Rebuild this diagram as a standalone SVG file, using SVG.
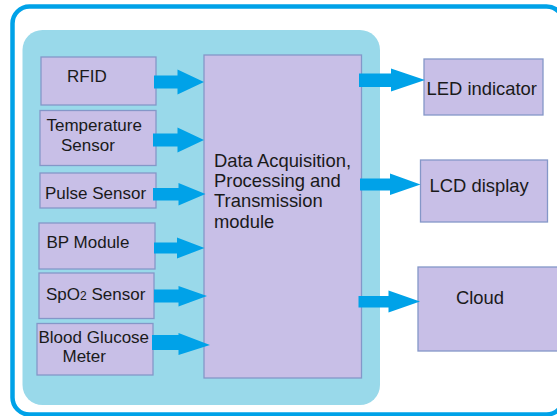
<svg xmlns="http://www.w3.org/2000/svg" width="557" height="416" viewBox="0 0 557 416">
<style>
.box{fill:#C8BFE7;stroke:#8497C8;stroke-width:1.3}
.t{font-family:"Liberation Sans",Arial,sans-serif;font-size:17px;fill:#1a1a1a}
.tm{font-family:"Liberation Sans",Arial,sans-serif;font-size:18.4px;fill:#1a1a1a}
.arr{fill:#00A2E8}
</style>
<rect x="0" y="0" width="557" height="416" fill="#ffffff"/>
<rect x="12.5" y="6.5" width="551" height="408" rx="17" fill="#ffffff" stroke="#00A2E8" stroke-width="4.5"/>
<rect x="22.5" y="30" width="357.5" height="375" rx="20" fill="#99D9EA"/>
<g id="main"><rect class="box" x="204" y="55" width="157.5" height="323"/>
<text class="tm" x="214" y="167">Data Acquisition,</text>
<text class="tm" x="214" y="187">Processing and</text>
<text class="tm" x="214" y="207">Transmission</text>
<text class="tm" x="214" y="228">module</text></g>
<g id="rfid"><rect class="box" x="41" y="57" width="115" height="48"/><text class="t" x="67" y="82">RFID</text></g>
<g id="temp"><rect class="box" x="40" y="110.5" width="116" height="55"/><text class="t" x="46.5" y="131">Temperature</text><text class="t" x="61" y="151">Sensor</text></g>
<g id="pulse"><rect class="box" x="40" y="173" width="116" height="35"/><text class="t" x="45" y="198.5">Pulse Sensor</text></g>
<g id="bp"><rect class="box" x="39" y="223" width="116" height="46"/><text class="t" x="46.5" y="248">BP Module</text></g>
<g id="spo2"><rect class="box" x="39" y="273" width="115" height="45.5"/><text class="t" x="46" y="300">SpO<tspan font-size="12">2</tspan> Sensor</text></g>
<g id="glucose"><rect class="box" x="37" y="323.5" width="116" height="51.5"/><text class="t" x="38.5" y="343">Blood Glucose</text><text class="t" x="62.5" y="362">Meter</text></g>
<g id="led"><rect class="box" x="424" y="59" width="119" height="56"/><text class="tm" x="426.5" y="95">LED indicator</text></g>
<g id="lcd"><rect class="box" x="420.5" y="160" width="127" height="62"/><text class="tm" x="429.5" y="192">LCD display</text></g>
<g id="cloud"><rect class="box" x="418" y="267" width="142" height="84"/><text class="tm" x="456" y="304">Cloud</text></g>
<g id="connectors">
<path class="arr" d="M154,75.5 H177.5 V69.5 L204,82 L177.5,94.5 V88.5 H154 Z"/>
<path class="arr" d="M153,133.5 H177.5 V127.5 L204,140 L177.5,152.5 V146.5 H153 Z"/>
<path class="arr" d="M153,188 H178.5 V183 L205.5,194 L178.5,205.5 V200.5 H153 Z"/>
<path class="arr" d="M154,242.5 H177 V237.5 L204.5,248 L177,258.5 V253.5 H154 Z"/>
<path class="arr" d="M154,289.5 H178.5 V286 L207,296 L178.5,306.5 V302.5 H154 Z"/>
<path class="arr" d="M152,335 H178.5 V333 L210,345 L178.5,355 V350 H152 Z"/>
<path class="arr" d="M359,73.5 H391 V68.5 L425,80 L391,91.5 V87 H359 Z"/>
<path class="arr" d="M360,178.5 H390 V173.5 L420.5,184.5 L390,195 V190.5 H360 Z"/>
<path class="arr" d="M358.5,296 H388.5 V290.5 L420,301.5 L388.5,312.5 V307.5 H358.5 Z"/>
</g>
</svg>
